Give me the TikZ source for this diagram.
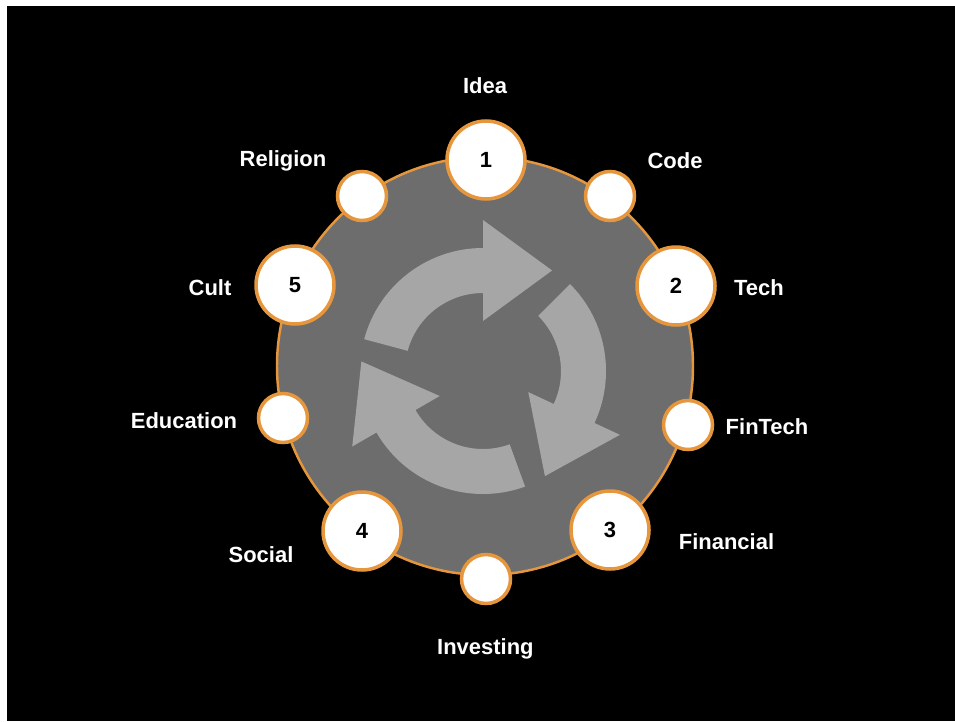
\documentclass[tikz,border=0pt]{standalone}
\usepackage{fontspec}
\setmainfont{Liberation Sans}
\usetikzlibrary{calc}
\definecolor{ringorange}{RGB}{230,150,60}
\definecolor{discgray}{RGB}{109,109,109}
\definecolor{arrowgray}{RGB}{166,166,166}

\tikzset{
  bigstage/.style={circle, draw=ringorange, fill=white, line width=2pt, inner sep=0pt, minimum size=1.56cm, font=\fontsize{12.5}{15}\selectfont\bfseries},
  smallstage/.style={circle, draw=ringorange, fill=white, line width=2pt, inner sep=0pt, minimum size=0.98cm},
  stagename/.style={text=white, anchor=base, inner sep=0pt, font=\fontsize{12.5}{15}\selectfont\bfseries}
}

\begin{document}
\begin{tikzpicture}[x=0.02cm, y=0.02cm]
    \useasboundingbox (0,0) rectangle (955,721);
    \fill[white] (0,0) rectangle (955,721);
    \fill[black] (7,0) rectangle (955,715);

    % grey disc with orange rim
    \filldraw[fill=discgray, draw=ringorange, line width=1.4pt] (485,355) ellipse [x radius=208, y radius=209];

    % three cycle arrows
    \begin{scope}[shift={(483,350)}]
      \foreach \h/\t in {90/165, -25/45, 210/290}
        \fill[arrowgray] (\t:123) arc[start angle=\t, end angle=\h, radius=123] -- (\h:151) -- ({\h-34.5}:122) -- (\h:50) -- (\h:78) arc[start angle=\h, end angle=\t, radius=78] -- cycle;
    \end{scope}

    \node[bigstage] (s1) at (486,561) {1};
    \node[smallstage] (code) at (610,525) {};
    \node[bigstage] (s2) at (676,435) {2};
    \node[smallstage] (fintech) at (688,296) {};
    \node[bigstage] (s3) at (610,191) {3};
    \node[smallstage] (investing) at (486,142) {};
    \node[bigstage] (s4) at (362,190) {4};
    \node[smallstage] (education) at (283,303) {};
    \node[bigstage] (s5) at (295,436) {5};
    \node[smallstage] (religion) at (362,525) {};

    \node[stagename] (lidea) at (485,627) {Idea};
    \node[stagename] (lreligion) at (283,554.5) {Religion};
    \node[stagename] (lcode) at (675,552) {Code};
    \node[stagename] (lcult) at (210,426) {Cult};
    \node[stagename] (ltech) at (759,426) {Tech};
    \node[stagename] (leducation) at (184,292.4) {Education};
    \node[stagename] (lfintech) at (767,286.4) {FinTech};
    \node[stagename] (lsocial) at (261,159) {Social};
    \node[stagename] (lfinancial) at (726.5,171.5) {Financial};
    \node[stagename] (linvesting) at (485.4,66.5) {Investing};
\end{tikzpicture}
\end{document}
